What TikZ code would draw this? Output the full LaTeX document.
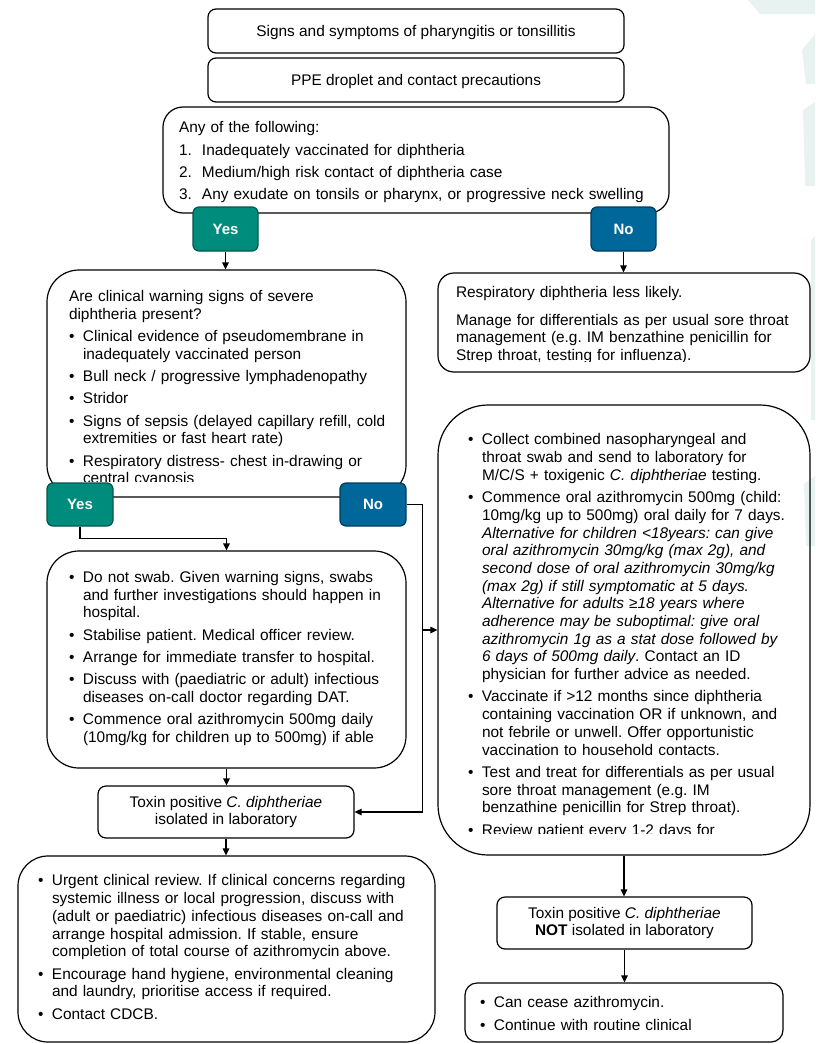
\documentclass[tikz,border=0pt]{standalone}
\usepackage{fontspec}
\setmainfont{Liberation Sans}
\usetikzlibrary{arrows.meta,calc}

\definecolor{yesfill}{RGB}{0,140,125}
\definecolor{yesline}{RGB}{0,85,75}
\definecolor{nofill}{RGB}{0,103,154}
\definecolor{noline}{RGB}{0,60,95}
\definecolor{deco}{RGB}{232,243,241}

\newcommand{\fitm}{\hangindent=14pt\hangafter=1\makebox[14pt][l]{\textbullet}}
\newcommand{\itm}{\par\fitm}
\newcommand{\nitm}[1]{\par\hangindent=23pt\hangafter=1\makebox[23pt][l]{#1.}}

\begin{document}
\begin{tikzpicture}
  [x=1pt,y=-1pt,line width=1.2pt,
   every node/.style={font=\fontsize{15.4}{17.7}\selectfont},
   box/.style={draw,rounded corners=#1,inner sep=0pt},
   box/.default=8,
   txt/.style={anchor=base west,inner sep=0pt,text width=#1,
     execute at begin node={\raggedright\let\\\newline\frenchspacing
       \setlength{\parskip}{4.6pt}\setlength{\parindent}{0pt}}},
   txt/.default=380,
   yesbox/.style={draw=yesline,fill=yesfill,text=white,rounded corners=6,
     minimum width=65,minimum height=44,font=\fontsize{15}{18}\selectfont\bfseries},
   nobox/.style={yesbox,draw=noline,fill=nofill},
   arr/.style={-{Triangle[length=7pt,width=6.5pt]}}]
  \useasboundingbox (0,0) rectangle (815,1044);

  % faint shapes at the right edge
  \fill[deco] (748,0) -- (815,0) -- (815,14) -- (760,14) -- cycle;
  \fill[deco] (815,34) -- (815,84) -- (806,84) -- (802,50) -- cycle;
  \fill[deco] (815,102) -- (815,186) -- (805,186) -- (803,110) -- cycle;
  \fill[deco] (815,236) -- (815,420) -- (811,420) -- (811,240) -- cycle;
  \fill[deco] (815,476) -- (815,546) -- (806,546) -- (804,484) -- cycle;

  % top of the chart
  \node[box,minimum width=416,minimum height=44,text depth=1pt] (signs) at (416,31)
    {Signs and symptoms of pharyngitis or tonsillitis};
  \node[box,minimum width=416,minimum height=44,text depth=1pt] (ppe) at (416,80)
    {PPE droplet and contact precautions};
  \node[box=20,minimum width=506,minimum height=106] (any) at (416,160) {};
  \begin{scope}
    \clip (any.north west) rectangle ($(any.south east)+(0,-11)$);
    \node[txt=485] (anytext) at ($(any.north west)+(16,26.5)$) {Any of the following:
      \nitm{1}Inadequately vaccinated for diphtheria
      \nitm{2}Medium/high risk contact of diphtheria case
      \nitm{3}Any exudate on tonsils or pharynx, or progressive neck swelling\par};
  \end{scope}

  % left branch
  \node[box=32,minimum width=359,minimum height=227] (warn) at (226.5,383.5) {};
  \begin{scope}
    \clip (warn.north west) rectangle ($(warn.south east)+(0,-16)$);
    \node[txt] (warntext) at ($(warn.north west)+(22,32)$) {Are clinical warning signs of severe\\
      diphtheria present?
      \itm Clinical evidence of pseudomembrane in\\ inadequately vaccinated person
      \itm Bull neck / progressive lymphadenopathy
      \itm Stridor
      \itm Signs of sepsis (delayed capillary refill, cold\\ extremities or fast heart rate)
      \itm Respiratory distress- chest in-drawing or\\ central cyanosis\par};
  \end{scope}

  \node[box=32,minimum width=359,minimum height=217] (severe) at (226.5,659.5) {};
  \begin{scope}
    \clip (severe.north west) rectangle ($(severe.south east)+(0,-16)$);
    \node[txt] (severetext) at ($(severe.north west)+(22,32)$) {%
      \fitm Do not swab. Given warning signs, swabs\\ and further investigations should happen in\\ hospital.
      \itm Stabilise patient. Medical officer review.
      \itm Arrange for immediate transfer to hospital.
      \itm Discuss with (paediatric or adult) infectious\\ diseases on-call doctor regarding DAT.
      \itm Commence oral azithromycin 500mg daily\\ (10mg/kg for children up to 500mg) if able\par};
  \end{scope}

  \node[box,minimum width=256,minimum height=52,align=center] (toxpos) at (226,812)
    {Toxin positive \textit{C. diphtheriae}\\ isolated in laboratory};

  \node[box=30,minimum width=417,minimum height=186] (urgent) at (226.5,949) {};
  \begin{scope}
    \clip (urgent.north west) rectangle ($(urgent.south east)+(0,-10)$);
    \node[txt=400] (urgenttext) at ($(urgent.north west)+(20,30.5)$) {%
      \fitm Urgent clinical review. If clinical concerns regarding\\ systemic illness or local progression, discuss with\\
        (adult or paediatric) infectious diseases on-call and\\ arrange hospital admission. If stable, ensure\\
        completion of total course of azithromycin above.
      \itm Encourage hand hygiene, environmental cleaning\\ and laundry, prioritise access if required.
      \itm Contact CDCB.\par};
  \end{scope}

  % right branch
  \node[box=16,minimum width=372,minimum height=99] (less) at (624,322.5) {};
  \begin{scope}
    \clip (less.north west) rectangle ($(less.south east)+(0,-11)$);
    \node[txt] (lesstext) at ($(less.north west)+(18,25.5)$) {Respiratory diphtheria less likely.
      \par\vspace{5pt}Manage for differentials as per usual sore throat\\
      management (e.g. IM benzathine penicillin for\\ Strep throat, testing for influenza).\par};
  \end{scope}

  \node[box=50,minimum width=372,minimum height=450] (swab) at (624,630) {};
  \begin{scope}
    \clip (swab.north west) rectangle ($(swab.south east)+(0,-22)$);
    \node[txt] (swabtext) at ($(swab.north west)+(30,40.5)$) {%
      \fitm Collect combined nasopharyngeal and\\ throat swab and send to laboratory for\\
        M/C/S + toxigenic \textit{C. diphtheriae} testing.
      \itm Commence oral azithromycin 500mg (child:\\ 10mg/kg up to 500mg) oral daily for 7 days.\\
        \textit{Alternative for children <18years: can give}\\
        \textit{oral azithromycin 30mg/kg (max 2g), and}\\
        \textit{second dose of oral azithromycin 30mg/kg}\\
        \textit{(max 2g) if still symptomatic at 5 days.}\\
        \textit{Alternative for adults ≥18 years where}\\
        \textit{adherence may be suboptimal: give oral}\\
        \textit{azithromycin 1g as a stat dose followed by}\\
        \textit{6 days of 500mg daily}. Contact an ID\\ physician for further advice as needed.
      \itm Vaccinate if >12 months since diphtheria\\ containing vaccination OR if unknown, and\\
        not febrile or unwell. Offer opportunistic\\ vaccination to household contacts.
      \itm Test and treat for differentials as per usual\\ sore throat management (e.g. IM\\
        benzathine penicillin for Strep throat).
      \itm Review patient every 1-2 days for\par};
  \end{scope}

  \node[box,minimum width=255,minimum height=52,align=center] (toxneg) at (624.5,923)
    {Toxin positive \textit{C. diphtheriae}\\ \textbf{NOT} isolated in laboratory};

  \node[box=12,minimum width=318,minimum height=59] (cease) at (624,1012.5) {};
  \begin{scope}
    \clip (cease.north west) rectangle ($(cease.south east)+(0,-4)$);
    \node[txt] (ceasetext) at ($(cease.north west)+(15,25.5)$) {%
      \fitm Can cease azithromycin.
      \itm Continue with routine clinical\par};
  \end{scope}

  % decisions
  \node[yesbox] (yes1) at (225.5,229) {Yes};
  \node[nobox] (no1) at (623.5,229) {No};
  \node[yesbox,minimum width=66,minimum height=43] (yes2) at (80,504.5) {Yes};
  \node[nobox,minimum width=66,minimum height=43] (no2) at (373,504.5) {No};

  % connectors
  \foreach \from/\to in {yes1/warn,no1/less,severe/toxpos,toxpos/urgent,swab/toxneg,toxneg/cease}
    \draw[arr] (\from.south) -- (\from.south |- \to.north);
  \draw[arr] (yes2.south) -- ++(0,12) -| (severe.north);
  \coordinate (nobend) at ($(no2.east)+(16,0)$);
  \draw[arr] (no2.east) -- (nobend) |- (toxpos.east);
  \draw[arr] (nobend |- swab.west) -- (swab.west);
\end{tikzpicture}
\end{document}
